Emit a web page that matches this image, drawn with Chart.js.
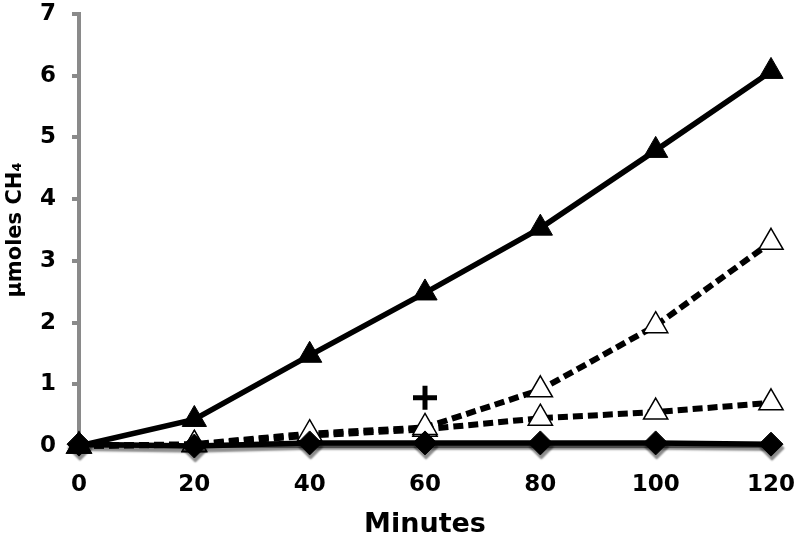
<!DOCTYPE html>
<html>
<head>
    <meta charset="UTF-8">
    <title>µmoles CH4 vs Minutes</title>
    <script src="https://cdn.jsdelivr.net/npm/chart.js"></script>
    <style>
        html, body { margin: 0; padding: 0; background: #fff; }
        #wrap { width: 796px; height: 543px; }
    </style>
</head>
<body>
<div id="wrap"><canvas id="ch4-chart" width="796" height="543"></canvas></div>
<script>
    // values
    const minutes = [0, 20, 40, 60, 80, 100, 120];
    const solidTri = [0, 0.43, 1.47, 2.48, 3.53, 4.79, 6.07];
    const diamonds = [0.03, 0.0, 0.05, 0.05, 0.05, 0.05, 0.03];
    const dashedHigh = [0, 0.03, 0.2, 0.3, 0.91, 1.95, 3.3];
    const dashedLow = [0, 0.02, 0.17, 0.27, 0.45, 0.55, 0.7];
    const plusX = [60];
    const plusY = [0.78];
    const yTicks = [0, 1, 2, 3, 4, 5, 6, 7];

    const toPoints = (xs, ys) => xs.map((x, i) => ({x: x, y: ys[i]}));

    const axisGray = '#8a8a8a';
    const fontStack = '"DejaVu Sans", sans-serif';
    const tickFont = {family: fontStack, weight: 'bold', size: 23};

    // fixed axis sizes, no extra label padding so the plot area matches the original
    function fixBox(scale, size) {
        if (scale.isHorizontal()) scale.height = size; else scale.width = size;
        scale.paddingTop = 0;
        scale.paddingBottom = 0;
        scale.paddingLeft = 0;
        scale.paddingRight = 0;
    }

    // grey drop shadow under the diamond line, like the original
    const shadowPlugin = {
        id: 'lineShadow',
        beforeDatasetDraw(chart, args) {
            if (args.index !== 1) return;
            const ctx = chart.ctx;
            ctx.save();
            ctx.shadowColor = 'rgba(0,0,0,0.45)';
            ctx.shadowOffsetX = 1;
            ctx.shadowOffsetY = 4;
            ctx.shadowBlur = 2;
        },
        afterDatasetDraw(chart, args) {
            if (args.index !== 1) return;
            chart.ctx.restore();
        }
    };

    new Chart(document.getElementById('ch4-chart'), {
        type: 'line',
        data: {
            datasets: [
                {
                    data: toPoints(minutes, solidTri),
                    borderColor: '#000',
                    backgroundColor: '#000',
                    borderWidth: 5.5,
                    pointStyle: 'triangle',
                    pointRadius: 14,
                    pointBackgroundColor: '#000',
                    pointBorderColor: '#000',
                    pointBorderWidth: 1,
                    clip: false
                },
                {
                    data: toPoints(minutes, diamonds),
                    borderColor: '#000',
                    borderWidth: 5.5,
                    pointStyle: 'rectRot',
                    pointRadius: 12,
                    pointBackgroundColor: '#000',
                    pointBorderColor: '#000',
                    pointBorderWidth: 1,
                    clip: false
                },
                {
                    data: toPoints(minutes, dashedHigh),
                    borderColor: '#000',
                    borderWidth: 6,
                    borderDash: [10, 5],
                    pointStyle: 'triangle',
                    pointRadius: 14,
                    pointBackgroundColor: '#fff',
                    pointBorderColor: '#000',
                    pointBorderWidth: 1.5,
                    clip: false
                },
                {
                    data: toPoints(minutes, dashedLow),
                    borderColor: '#000',
                    borderWidth: 6,
                    borderDash: [10, 5],
                    pointStyle: 'triangle',
                    pointRadius: 14,
                    pointBackgroundColor: '#fff',
                    pointBorderColor: '#000',
                    pointBorderWidth: 1.5,
                    clip: false
                },
                {
                    data: toPoints(plusX, plusY),
                    showLine: false,
                    pointStyle: 'cross',
                    pointRadius: 12,
                    pointBorderColor: '#000',
                    pointBorderWidth: 5,
                    clip: false
                }
            ]
        },
        options: {
            responsive: false,
            animation: false,
            layout: {autoPadding: false, padding: {top: 14, right: 25, left: 0, bottom: 0}},
            plugins: {
                legend: {display: false},
                tooltip: {enabled: false}
            },
            scales: {
                x: {
                    type: 'linear',
                    min: 0,
                    max: 120,
                    afterBuildTicks: (scale) => { scale.ticks = minutes.map(v => ({value: v})); },
                    afterFit: (scale) => fixBox(scale, 97),
                    grid: {display: false},
                    border: {display: true, color: axisGray, width: 4},
                    ticks: {color: '#000', font: tickFont, padding: 17, maxRotation: 0},
                    title: {
                        display: true,
                        text: 'Minutes',
                        color: '#000',
                        font: {family: fontStack, weight: 'bold', size: 27},
                        padding: {top: 0, bottom: 2}
                    }
                },
                y: {
                    min: 0,
                    max: 7,
                    afterBuildTicks: (scale) => { scale.ticks = yTicks.map(v => ({value: v})); },
                    afterFit: (scale) => fixBox(scale, 79),
                    grid: {
                        drawOnChartArea: false,
                        drawTicks: true,
                        tickLength: 7,
                        color: axisGray,
                        lineWidth: 4
                    },
                    border: {display: true, color: axisGray, width: 4},
                    ticks: {color: '#000', font: tickFont, padding: 16},
                    title: {
                        display: true,
                        text: 'µmoles CH₄',
                        color: '#000',
                        font: {family: fontStack, weight: 'bold', size: 21},
                        padding: {top: 3, bottom: 0}
                    }
                }
            }
        },
        plugins: [shadowPlugin]
    });
</script>
</body>
</html>
